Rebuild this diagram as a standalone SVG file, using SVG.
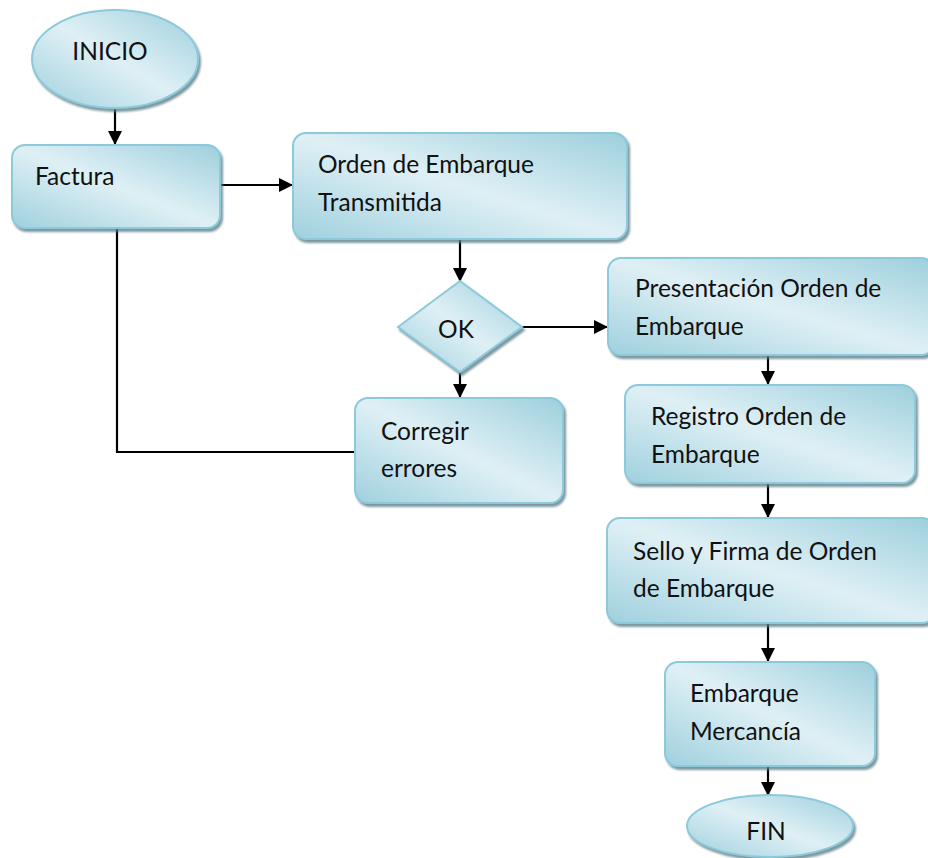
<svg xmlns="http://www.w3.org/2000/svg" width="928" height="858" viewBox="0 0 928 858">
<defs>
<linearGradient id="g" x1="0" y1="1" x2="1" y2="0">
<stop offset="0" stop-color="#9fd0de"/>
<stop offset="0.5" stop-color="#dff0f5"/>
<stop offset="1" stop-color="#9dcfdd"/>
</linearGradient>
<filter id="sh" x="-10%" y="-10%" width="125%" height="130%">
<feDropShadow dx="2" dy="3" stdDeviation="1.2" flood-color="#5d7f89" flood-opacity="0.8"/>
</filter>
<marker id="ar" viewBox="0 0 14 14" refX="13" refY="7" markerWidth="14" markerHeight="14" markerUnits="userSpaceOnUse" orient="auto">
<path d="M0,0 L14,7 L0,14 Z" fill="#000"/>
</marker>
<clipPath id="clipP"><rect x="600" y="250" width="328" height="89"/></clipPath>
</defs>
<style>
.n{fill:url(#g);stroke:#8ccadb;stroke-width:2;filter:url(#sh)}
.t{font-family:Lato,"Open Sans","Liberation Sans",sans-serif;font-size:24.5px;fill:#111}
.c{stroke:#000;stroke-width:2.2;fill:none}
.a{marker-end:url(#ar)}
</style>
<g id="connectors">
<line class="c a" x1="115" y1="108" x2="115" y2="144"/>
<line class="c a" x1="218" y1="185" x2="292" y2="185"/>
<line class="c a" x1="460" y1="237" x2="460" y2="281"/>
<line class="c a" x1="522" y1="327" x2="607" y2="327"/>
<line class="c a" x1="460" y1="372" x2="460" y2="397"/>
<polyline class="c" points="117,228 117,452 355,452"/>
<line class="c a" x1="768" y1="352" x2="768" y2="384"/>
<line class="c a" x1="768" y1="483" x2="768" y2="517"/>
<line class="c a" x1="768" y1="622" x2="768" y2="661"/>
<line class="c a" x1="768" y1="766" x2="768" y2="795"/>
</g>
<g id="inicio">
<ellipse class="n" cx="115" cy="59" rx="83" ry="49"/>
<text class="t" x="110" y="60" font-size="25" text-anchor="middle">INICIO</text>
</g>
<g id="factura">
<rect class="n" x="12" y="145" width="208" height="83" rx="13"/>
<text class="t" x="35" y="185">Factura</text>
</g>
<g id="orden">
<rect class="n" x="293" y="133" width="334" height="106" rx="13"/>
<text class="t" x="318" y="173">Orden de Embarque</text>
<text class="t" x="318" y="211">Transmitida</text>
</g>
<g id="ok">
<polygon class="n" points="460,281 522,327 460,372 398,327"/>
<text class="t" x="456" y="338" text-anchor="middle">OK</text>
</g>
<g id="corregir">
<rect class="n" x="355" y="398" width="208" height="105" rx="13"/>
<text class="t" x="381" y="440">Corregir</text>
<text class="t" x="381" y="477">errores</text>
</g>
<g id="presentacion">
<rect class="n" x="608" y="258" width="326" height="97" rx="13"/>
<g clip-path="url(#clipP)">
<text class="t" x="635" y="297">Presentación Orden de</text>
<text class="t" x="635" y="335">Embarque</text>
</g>
</g>
<g id="registro">
<rect class="n" x="625" y="385" width="290" height="98" rx="13"/>
<text class="t" x="651" y="425">Registro Orden de</text>
<text class="t" x="651" y="463">Embarque</text>
</g>
<g id="sello">
<rect class="n" x="607" y="518" width="328" height="105" rx="13"/>
<text class="t" x="633" y="560">Sello y Firma de Orden</text>
<text class="t" x="633" y="597">de Embarque</text>
</g>
<g id="embarque">
<rect class="n" x="665" y="662" width="210" height="104" rx="13"/>
<text class="t" x="690" y="702">Embarque</text>
<text class="t" x="690" y="740">Mercancía</text>
</g>
<g id="fin">
<ellipse class="n" cx="770" cy="826" rx="83" ry="31"/>
<text class="t" x="766" y="840" font-size="25" text-anchor="middle">FIN</text>
</g>
</svg>
